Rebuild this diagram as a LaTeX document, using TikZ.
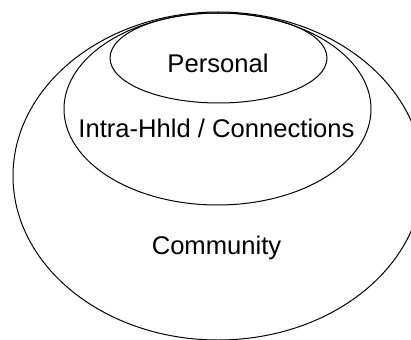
\documentclass[tikz,border=0pt]{standalone}
\usepackage{fontspec}
\setmainfont{Liberation Sans}
\usetikzlibrary{shapes.geometric}
\begin{document}
\begin{tikzpicture}[x=1pt,y=-1pt,
  ring/.style={ellipse,draw=black,line width=1pt,inner sep=0pt,outer sep=0pt},
  lbl/.style={font=\fontsize{25.6}{30}\selectfont,inner sep=0pt,anchor=base}]
\useasboundingbox (0,0) rectangle (411,339);
\clip (0,0) rectangle (411,339);
\node[ring,minimum width=410pt,minimum height=328pt] (community) at (218,176) {};
\node[ring,minimum width=307pt,minimum height=192pt] (intra) at (217.5,109) {};
\node[ring,minimum width=217pt,minimum height=90pt] (personal) at (218.5,58) {};
\node[lbl] (tp) at (218,72.5) {Personal};
\node[lbl] (ti) at (216.5,137.5) {Intra-Hhld / Connections};
\node[lbl] (tc) at (216.5,254) {Community};
\end{tikzpicture}
\end{document}
